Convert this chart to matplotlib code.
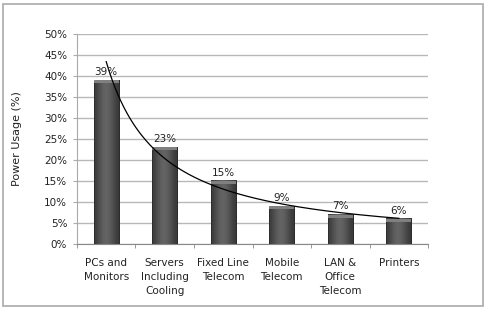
import matplotlib.pyplot as plt
from matplotlib.patches import Rectangle
import numpy as np

categories = ["PCs and\nMonitors", "Servers\nIncluding\nCooling", "Fixed Line\nTelecom",
              "Mobile\nTelecom", "LAN &\nOffice\nTelecom", "Printers"]
usage = [39, 23, 15, 9, 7, 6]
yticks = [0, 5, 10, 15, 20, 25, 30, 35, 40, 45, 50]

plt.rcParams['font.family'] = ['DejaVu Sans']

fig = plt.figure(figsize=(4.87, 3.11), dpi=100)
ax = fig.add_axes([0.158, 0.215, 0.721, 0.676])

x = np.arange(1, len(usage) + 1)
w = 0.43

# bars with a horizontal shading to mimic the cylinder look
grad = np.array([[0.24, 0.30, 0.36, 0.40, 0.38, 0.33, 0.27, 0.22]])
for xi, v in zip(x, usage):
    ax.imshow(grad, cmap='gray', vmin=0, vmax=1, aspect='auto', interpolation='bicubic',
              extent=(xi - w / 2, xi + w / 2, 0, v), zorder=2)
    ax.add_patch(Rectangle((xi - w / 2, 0), w, v, fill=False, edgecolor='#2a2a2a', lw=0.6, zorder=3))
    ax.add_patch(Rectangle((xi - w / 2, v - 0.7), w, 0.7, facecolor='#808080', edgecolor='none', zorder=3))
    ax.text(xi, v + 0.8, "%d%%" % v, ha='center', va='bottom', fontsize=7.5, color='#222222', zorder=5)

# power trendline fitted on the data
b, lna = np.polyfit(np.log(x), np.log(usage), 1)
xs = np.linspace(1, 6, 200)
ax.plot(xs, np.exp(lna) * xs ** b, color='black', lw=0.9, zorder=4)

ax.set_xlim(0.5, 6.5)
ax.set_ylim(0, 50)
ax.set_yticks(yticks)
ax.set_yticklabels(["%d%%" % t for t in yticks], fontsize=7.5, color='#222222')
ax.set_xticks(x)
ax.set_xticklabels(categories, fontsize=7.5, color='#222222', linespacing=1.5)
ax.set_xticks(np.arange(0.5, 7, 1), minor=True)
ax.tick_params(axis='x', which='major', length=0, pad=10)
ax.tick_params(axis='x', which='minor', length=3, color='#888888')
ax.tick_params(axis='y', length=3, color='#aaaaaa', pad=4)
ax.grid(axis='y', color='#b8b8b8', lw=1.0, zorder=0)
ax.set_axisbelow(True)
for s in ['top', 'right']:
    ax.spines[s].set_visible(False)
ax.spines['left'].set_color('#aaaaaa')
ax.spines['bottom'].set_color('#888888')
ax.set_ylabel("Power Usage (%)", fontsize=8, color='#222222', labelpad=16)

fig.patches.append(Rectangle((0.006, 0.016), 0.986, 0.972, transform=fig.transFigure,
                             fill=False, edgecolor='#aaaaaa', lw=1.2))

fig.savefig("out.png", dpi=100)
